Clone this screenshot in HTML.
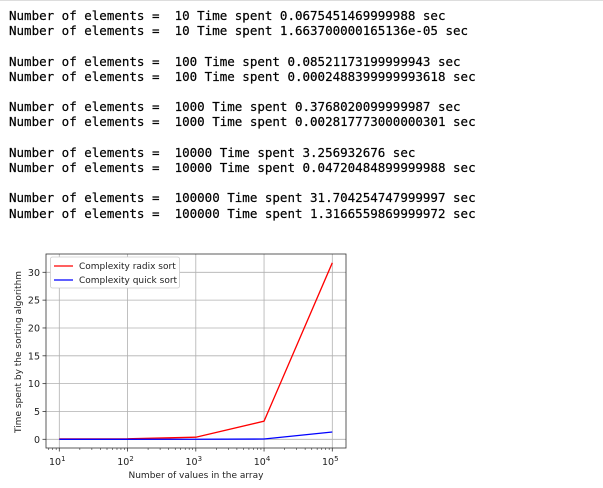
<!DOCTYPE html>
<html><head><meta charset="utf-8"><style>
body{margin:0;width:603px;height:488px;background:#fff;position:relative;overflow:hidden}
#topline{position:absolute;left:0;top:0;width:603px;height:1px;background:#ddd}
pre{position:absolute;left:9px;top:8px;margin:0;font-family:"DejaVu Sans Mono","Liberation Mono",monospace;font-size:12.5px;line-height:15.2px;color:#000;-webkit-text-stroke:0.2px #000}
svg{position:absolute;left:0;top:0}
text{font-family:"DejaVu Sans","Liberation Sans",sans-serif;fill:#222}
</style></head><body>
<div id="topline"></div>
<pre>Number of elements =  10 Time spent 0.0675451469999988 sec
Number of elements =  10 Time spent 1.663700000165136e-05 sec

Number of elements =  100 Time spent 0.08521173199999943 sec
Number of elements =  100 Time spent 0.0002488399999993618 sec

Number of elements =  1000 Time spent 0.3768020099999987 sec
Number of elements =  1000 Time spent 0.002817773000000301 sec

Number of elements =  10000 Time spent 3.256932676 sec
Number of elements =  10000 Time spent 0.04720484899999988 sec

Number of elements =  100000 Time spent 31.704254747999997 sec
Number of elements =  100000 Time spent 1.3166559869999972 sec</pre>
<svg id="chart" width="603" height="488"></svg>
<script>
const sizes=[10,100,1000,10000,100000];
const radixTimes=[0.0675,0.0852,0.3768,3.2569,31.7043];
const quickTimes=[0.0000166,0.00025,0.0028,0.0472,1.3167];
const yTicks=[0,5,10,15,20,25,30];
const xTickExps=[1,2,3,4,5];
const svg=document.getElementById('chart');
const NS='http://www.w3.org/2000/svg';
const L=46,R=346,T=254,B=448;
function xs(v){return 59.3+(Math.log10(v)-1)*68.25;}
function ys(v){return 439.3-v*(167/30);}
function mk(tag,a,p){const e=document.createElementNS(NS,tag);for(const k in a)e.setAttribute(k,a[k]);(p||svg).appendChild(e);return e;}
xTickExps.forEach(ex=>{
  const x=xs(Math.pow(10,ex));
  const g=mk('line',{x1:x,x2:x,y1:T,y2:B,stroke:'#b0b0b0','stroke-width':0.8});
  
  
  mk('line',{x1:x,x2:x,y1:B,y2:B+3.5,stroke:'#333','stroke-width':0.8});
  const t=mk('text',{x:x-2,y:465,'font-size':9.5,'text-anchor':'middle'});
  
  
  t.textContent='10';
  const s=mk('tspan',{dy:-4,'font-size':7},t);s.textContent=ex;
});
for(let ex=1;ex<=5;ex++){for(let m=2;m<=9;m++){const v=m*Math.pow(10,ex);const x=xs(v);if(x<R)mk('line',{x1:x,x2:x,y1:B,y2:B+2,stroke:'#333','stroke-width':0.6});}}
for(let m=5;m<=9;m++){const x=xs(m);if(x>L)mk('line',{x1:x,x2:x,y1:B,y2:B+2,stroke:'#333','stroke-width':0.6});}
yTicks.forEach(v=>{
  const y=ys(v);
  const g=mk('line',{x1:L,x2:R,y1:y,y2:y,stroke:'#b0b0b0','stroke-width':0.8});
  
  
  mk('line',{x1:L-3.5,x2:L,y1:y,y2:y,stroke:'#333','stroke-width':0.8});
  const t=mk('text',{x:L-6,y:y+3.5,'font-size':9.5,'text-anchor':'end'});
  
  
  t.textContent=v;
});
function line(vals,color,name){
  const p=mk('polyline',{points:sizes.map((s,i)=>xs(s)+','+ys(vals[i])).join(' '),fill:'none',stroke:color,'stroke-width':1.3});
  
  
}
line(radixTimes,'#ff0000','radix-sort-line');
line(quickTimes,'#0000ff','quick-sort-line');
const fr=mk('rect',{x:L,y:T,width:R-L,height:B-T,fill:'none',stroke:'#333','stroke-width':0.8});


const lg=mk('g',{});


mk('rect',{x:50.5,y:257,width:129,height:31,fill:'#fff',stroke:'#ccc','stroke-width':0.8,rx:2},lg);
[['Complexity radix sort','#ff0000',266],['Complexity quick sort','#0000ff',280]].forEach(([lab,c,y])=>{
  mk('line',{x1:54,x2:73,y1:y,y2:y,stroke:c,'stroke-width':1.3},lg);
  const t=mk('text',{x:79,y:y+3,'font-size':9},lg);
  
  
  t.textContent=lab;
});
const xl=mk('text',{x:196,y:478,'font-size':9,'text-anchor':'middle'});


xl.textContent='Number of values in the array';
const yl=mk('text',{x:0,y:0,'font-size':9,'text-anchor':'middle',transform:'translate(21,352) rotate(-90)'});


yl.textContent='Time spent by the sorting algorithm';
</script>
</body></html>
